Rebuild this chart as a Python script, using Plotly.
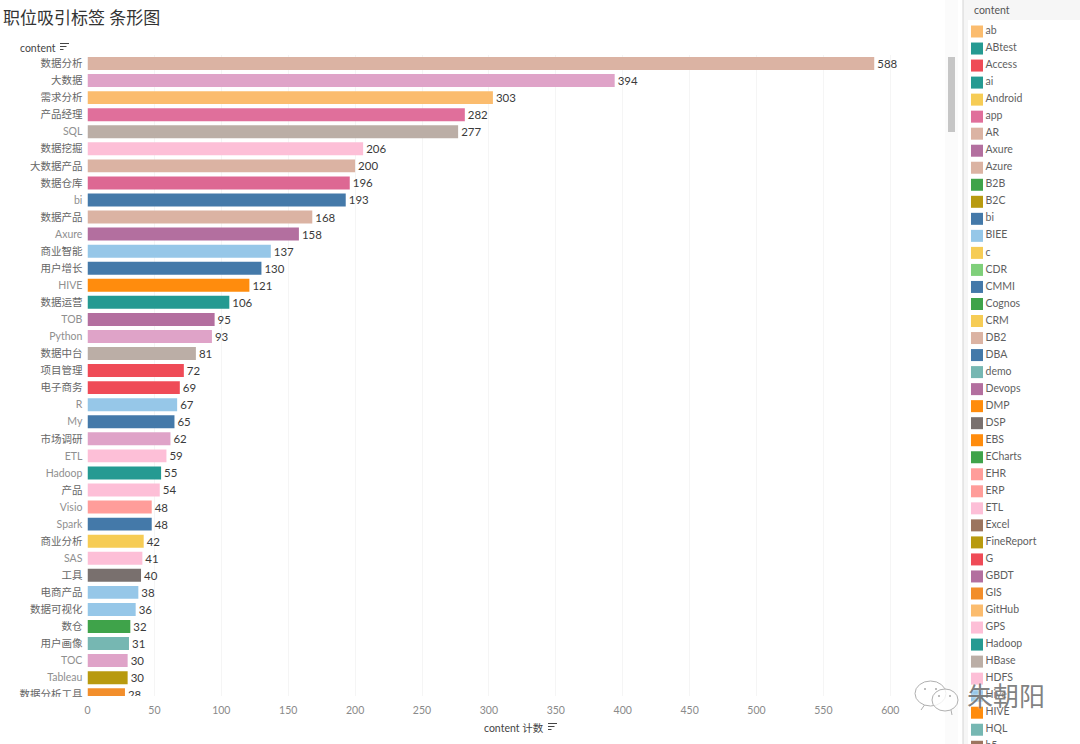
import plotly.graph_objects as go

categories = ["数据分析","大数据","需求分析","产品经理","SQL","数据挖掘","大数据产品","数据仓库","bi","数据产品",
              "Axure","商业智能","用户增长","HIVE","数据运营","TOB","Python","数据中台","项目管理","电子商务",
              "R","My","市场调研","ETL","Hadoop","产品","Visio","Spark","商业分析","SAS",
              "工具","电商产品","数据可视化","数仓","用户画像","TOC","Tableau","数据分析工具"]
values = [588,394,303,282,277,206,200,196,193,168,158,137,130,121,106,95,93,81,72,69,67,65,62,59,55,54,48,48,42,41,40,38,36,32,31,30,30,28]
bar_colors = ["#dbb3a3","#dfa3c8","#fbbc6e","#e06f9b","#bbaea6","#fdbfd7","#dbb3a3","#dd6893","#4479a9","#dbb3a3",
              "#b36f9f","#96c7e8","#4479a9","#ff8c0d","#259a92","#b36f9f","#dfa3c8","#bbaea6","#ef4b57","#ef4b57",
              "#96c7e8","#4479a9","#dfa3c8","#fdbfd7","#259a92","#fdbfd7","#ff9d9a","#4479a9","#f6cc55","#fdbfd7",
              "#79706e","#96c7e8","#96c7e8","#3fa34a","#76b7b2","#dfa3c8","#b89a0f","#f28e2b"]

legend_names = ["ab","ABtest","Access","ai","Android","app","AR","Axure","Azure","B2B","B2C","bi","BIEE","c","CDR","CMMI",
                "Cognos","CRM","DB2","DBA","demo","Devops","DMP","DSP","EBS","ECharts","EHR","ERP","ETL","Excel",
                "FineReport","G","GBDT","GIS","GitHub","GPS","Hadoop","HBase","HDFS","Hive","HIVE","HQL","h5"]
legend_colors = ["#fbbc6e","#259a92","#ef4b57","#259a92","#f6cc55","#e06f9b","#dbb3a3","#b36f9f","#dbb3a3","#3fa34a","#b89a0f","#4479a9",
                 "#96c7e8","#f6cc55","#7fcf7a","#4479a9","#3fa34a","#f6cc55","#dbb3a3","#4479a9","#76b7b2","#b36f9f","#ff8c0d","#79706e",
                 "#ff8c0d","#3fa34a","#ff9d9a","#ff9d9a","#fdbfd7","#9c755f","#b89a0f","#ef4b57","#b36f9f","#f28e2b","#fbbc6e","#fdbfd7",
                 "#259a92","#bbaea6","#fdbfd7","#96c7e8","#ff8c0d","#76b7b2","#9c755f"]
x_ticks = list(range(0, 601, 50))

W, H = 1080, 744
FONT = "Lato, 'Noto Sans CJK SC', sans-serif"
px = lambda v: v / W
py = lambda v: 1 - v / H


def tick_label(s):
    return f"<span style='color:#8f8f8f'>{s}</span>" if s.isascii() else s


fig = go.Figure()
fig.add_trace(go.Bar(
    y=categories, x=values, orientation="h", width=0.76,
    marker=dict(color=bar_colors, line=dict(width=0)),
    text=values, textposition="outside", cliponaxis=True,
    textfont=dict(size=11.5, color="#3a3a3a", family=FONT),
    hoverinfo="x+y", xaxis="x", yaxis="y",
))
fig.add_trace(go.Scatter(
    x=[0] * len(legend_names), y=list(range(len(legend_names))),
    mode="markers+text", text=legend_names, textposition="middle right",
    marker=dict(symbol="square", size=12, color=legend_colors, line=dict(width=0)),
    textfont=dict(size=10.5, color="#5f5f5f", family=FONT),
    hoverinfo="text", xaxis="x2", yaxis="y2",
))


def paper_shape(**kw):
    return dict(xref="paper", yref="paper", **kw)


shapes = [
    paper_shape(type="rect", x0=px(945), x1=px(958), y0=py(0), y1=py(744), fillcolor="#fbfbfb", line_width=0, layer="below"),
    paper_shape(type="rect", x0=px(948), x1=px(955), y0=py(57), y1=py(132), fillcolor="#c6c6c6", line_width=0),
    paper_shape(type="rect", x0=px(963), x1=px(968), y0=py(0), y1=py(744), fillcolor="#f6f6f6", line_width=0, layer="below"),
    paper_shape(type="line", x0=px(963), x1=px(963), y0=py(0), y1=py(744), line=dict(color="#d4d4d4", width=1)),
    paper_shape(type="rect", x0=px(968), x1=px(1080), y0=py(0), y1=py(20), fillcolor="#f6f6f6", line_width=0, layer="below"),
    # clips the last row's axis label at the plot edge
    paper_shape(type="rect", x0=px(0), x1=px(83.5), y0=py(697), y1=py(712), fillcolor="#ffffff", line_width=0),
]
# sort icons
for ox, oy in [(60, 43.5), (548, 723.5)]:
    for k, ln in enumerate([9, 6.5, 3.5]):
        shapes.append(paper_shape(type="line", x0=px(ox), x1=px(ox + ln), y0=py(oy + k * 3), y1=py(oy + k * 3),
                                  line=dict(color="#444444", width=1)))
# watermark bubbles with tails and eyes
for x0, y0, x1, y1, tx, ty in [(915, 681, 946, 706, 921, 710), (932, 689, 958, 711, 952, 715)]:
    shapes.append(paper_shape(type="circle", x0=px(x0), x1=px(x1), y0=py(y0), y1=py(y1),
                              line=dict(color="#b0b0b0", width=1), fillcolor="rgba(255,255,255,0.8)"))
    bx = (x0 + x1) / 2
    shapes.append(paper_shape(type="line", x0=px(bx - 6 if tx < bx else bx + 6), x1=px(tx), y0=py(y1 - 1), y1=py(ty),
                              line=dict(color="#b0b0b0", width=1)))
for ex, ey in [(925, 689), (936, 689), (939, 696), (950, 696)]:
    shapes.append(paper_shape(type="circle", x0=px(ex - 1), x1=px(ex + 1), y0=py(ey - 1), y1=py(ey + 1),
                              line_width=0, fillcolor="#a8a8a8"))

annotations = [
    dict(text="职位吸引标签 条形图", x=px(1), y=py(18), xanchor="left", yanchor="middle",
         font=dict(size=17, color="#333333", family=FONT)),
    dict(text="content", x=px(18), y=py(47.5), xanchor="left", yanchor="middle",
         font=dict(size=10.5, color="#444444", family=FONT)),
    dict(text="content 计数", x=px(482), y=py(727.5), xanchor="left", yanchor="middle",
         font=dict(size=10.5, color="#444444", family=FONT)),
    dict(text="content", x=px(972), y=py(9.5), xanchor="left", yanchor="middle",
         font=dict(size=10.5, color="#555555", family=FONT)),
    dict(text="朱朝阳", x=px(965), y=py(696), xanchor="left", yanchor="middle",
         font=dict(size=26, color="rgba(95,95,95,0.8)", family=FONT, shadow="0 0 2px #ffffff")),
]
for a in annotations:
    a.update(xref="paper", yref="paper", showarrow=False)

fig.update_layout(
    width=W, height=H, margin=dict(l=0, r=0, t=0, b=0, pad=0, autoexpand=False), autosize=False,
    paper_bgcolor="white", plot_bgcolor="white", showlegend=False,
    font=dict(family=FONT),
    shapes=shapes, annotations=annotations,
    xaxis=dict(domain=[px(87.5), px(905)], range=[0, (905 - 87.5) / 1.338], anchor="y",
               tickvals=x_ticks, showgrid=True, gridcolor="#f5f5f5", gridwidth=1,
               zeroline=False, showline=False, ticks="outside", ticklen=4, tickcolor="rgba(0,0,0,0)",
               tickfont=dict(size=10.5, color="#8a8a8a", family=FONT)),
    yaxis=dict(domain=[py(696), py(55)], anchor="x", type="category",
               categoryorder="array", categoryarray=categories,
               range=[(696 - 63.5) / 17.06, (55 - 63.5) / 17.06],
               tickmode="array", tickvals=categories, ticktext=[tick_label(c) for c in categories],
               showgrid=False, zeroline=False, showline=False,
               ticks="outside", ticklen=2, tickcolor="rgba(0,0,0,0)",
               tickfont=dict(size=10.5, color="#666666", family=FONT)),
    xaxis2=dict(domain=[px(963), 1], range=[-14, 103], anchor="y2", visible=False),
    yaxis2=dict(domain=[0, 1], range=[(744 - 31.5) / 17.03, -31.5 / 17.03], anchor="x2", visible=False),
)

fig.write_html("out.html", config=dict(displayModeBar=False),
               post_script="document.body.style.margin='0';document.body.style.overflow='hidden';")
